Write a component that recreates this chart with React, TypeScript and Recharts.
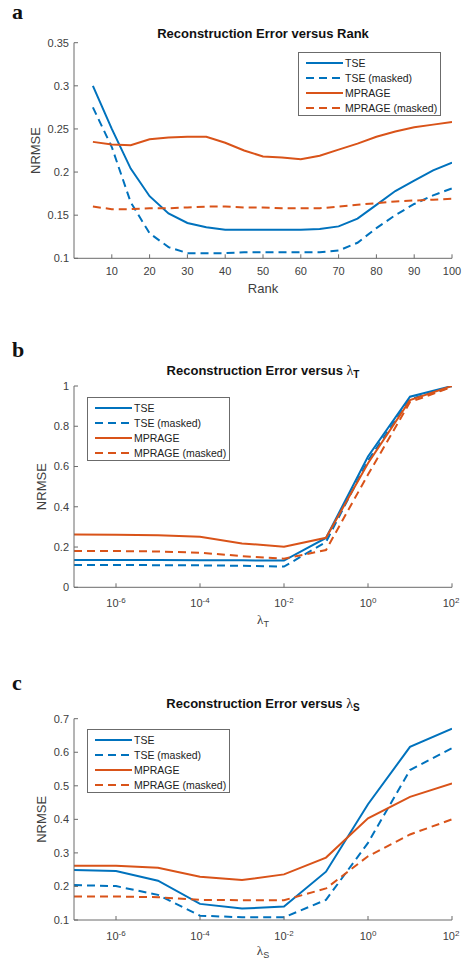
import React from 'react';
import { LineChart, Line, XAxis, YAxis, Legend } from 'recharts';

const BLUE = '#0072BD';
const ORANGE = '#D95319';
const AXIS = '#6b6b6b';
const TEXT = '#404040';
const SANS = '"Liberation Sans", Arial, Helvetica, sans-serif';
const SERIF = '"Liberation Serif", "Times New Roman", serif';

// panel a: error vs rank
const rankValues = [5, 10, 15, 20, 25, 30, 35, 40, 45, 50, 55, 60, 65, 70, 75, 80, 85, 90, 95, 100];
const rankTse = [0.3, 0.25, 0.204, 0.172, 0.152, 0.141, 0.136, 0.133, 0.133, 0.133, 0.133, 0.133, 0.134, 0.137, 0.146, 0.162, 0.178, 0.19, 0.202, 0.211];
const rankTseMasked = [0.275, 0.229, 0.165, 0.129, 0.113, 0.106, 0.106, 0.106, 0.107, 0.107, 0.107, 0.107, 0.107, 0.109, 0.118, 0.135, 0.15, 0.163, 0.173, 0.181];
const rankMprage = [0.235, 0.232, 0.231, 0.238, 0.24, 0.241, 0.241, 0.234, 0.225, 0.218, 0.217, 0.215, 0.219, 0.226, 0.233, 0.241, 0.247, 0.252, 0.255, 0.258];
const rankMprageMasked = [0.16, 0.157, 0.157, 0.158, 0.158, 0.159, 0.16, 0.16, 0.159, 0.159, 0.158, 0.158, 0.158, 0.16, 0.162, 0.164, 0.166, 0.167, 0.168, 0.169];

// panels b and c share the lambda grid
const lambdaValues = [1e-7, 1e-6, 1e-5, 1e-4, 1e-3, 1e-2, 1e-1, 1, 10, 100];
const lambdaTicks = [1e-6, 1e-4, 1e-2, 1, 100];

// panel b: error vs lambda_T
const lamTTse = [0.136, 0.136, 0.136, 0.135, 0.134, 0.133, 0.245, 0.65, 0.947, 1.0];
const lamTTseMasked = [0.111, 0.111, 0.11, 0.109, 0.107, 0.103, 0.225, 0.63, 0.935, 0.995];
const lamTMprage = [0.262, 0.261, 0.258, 0.251, 0.218, 0.202, 0.246, 0.616, 0.93, 1.0];
const lamTMprageMasked = [0.18, 0.18, 0.178, 0.172, 0.155, 0.142, 0.185, 0.56, 0.92, 0.995];

// panel c: error vs lambda_S
const lamSTse = [0.249, 0.246, 0.217, 0.148, 0.134, 0.14, 0.244, 0.445, 0.616, 0.67];
const lamSTseMasked = [0.204, 0.201, 0.175, 0.113, 0.108, 0.108, 0.16, 0.33, 0.547, 0.612];
const lamSMprage = [0.262, 0.262, 0.256, 0.229, 0.219, 0.236, 0.286, 0.403, 0.467, 0.507];
const lamSMprageMasked = [0.17, 0.17, 0.168, 0.16, 0.159, 0.159, 0.194, 0.29, 0.355, 0.4];

const rankYTicks = [0.1, 0.15, 0.2, 0.25, 0.3, 0.35];
const lamTYTicks = [0, 0.2, 0.4, 0.6, 0.8, 1];
const lamSYTicks = [0.1, 0.2, 0.3, 0.4, 0.5, 0.6, 0.7];
const rankXTicks = [10, 20, 30, 40, 50, 60, 70, 80, 90, 100];

const seriesDefs = [
  { key: 'tse', name: 'TSE', color: BLUE, dash: undefined as string | undefined },
  { key: 'tseMasked', name: 'TSE (masked)', color: BLUE, dash: '8 5' },
  { key: 'mprage', name: 'MPRAGE', color: ORANGE, dash: undefined as string | undefined },
  { key: 'mprageMasked', name: 'MPRAGE (masked)', color: ORANGE, dash: '8 5' },
];

const buildRows = (xs: number[], a: number[], b: number[], c: number[], d: number[]) =>
  xs.map((x, i) => ({ x, tse: a[i], tseMasked: b[i], mprage: c[i], mprageMasked: d[i] }));

const rankData = buildRows(rankValues, rankTse, rankTseMasked, rankMprage, rankMprageMasked);
const lamTData = buildRows(lambdaValues, lamTTse, lamTTseMasked, lamTMprage, lamTMprageMasked);
const lamSData = buildRows(lambdaValues, lamSTse, lamSTseMasked, lamSMprage, lamSMprageMasked);

function LegendBox() {
  return (
    <div
      style={{
        width: 143,
        height: 64,
        boxSizing: 'border-box',
        border: `1px solid ${AXIS}`,
        background: '#fff',
        paddingTop: 3,
        paddingLeft: 7,
        fontFamily: SANS,
        fontSize: 10.5,
        color: '#222',
      }}
    >
      {seriesDefs.map((s) => (
        <div key={s.key} style={{ display: 'flex', alignItems: 'center', height: 14.8 }}>
          <svg width={37} height={6} style={{ display: 'block' }}>
            <line x1={0} y1={3} x2={37} y2={3} stroke={s.color} strokeWidth={2} strokeDasharray={s.dash} />
          </svg>
          <span style={{ marginLeft: 2, lineHeight: '12px' }}>{s.name}</span>
        </div>
      ))}
    </div>
  );
}

function PowerTick(props: any) {
  const { x, y, payload } = props;
  const exp = Math.round(Math.log10(payload.value));
  return (
    <text x={x} y={y} textAnchor="middle" fill={TEXT} fontFamily={SANS} fontSize={11}>
      <tspan dy="0.71em">10</tspan>
      <tspan dy="-0.5em" fontSize={8}>{exp}</tspan>
    </text>
  );
}

const xLabel = (main: string, sub: string | null, dy: number) => (props: any) => {
  const vb = props.viewBox || { x: 0, y: 0, width: 0 };
  const cx = vb.x + vb.width / 2;
  if (!sub) {
    return (
      <text x={cx} y={vb.y + dy} textAnchor="middle" fill={TEXT} fontFamily={SANS} fontSize={13}>
        {main}
      </text>
    );
  }
  return (
    <text x={cx} y={vb.y + dy} textAnchor="middle" fill={TEXT}>
      <tspan fontFamily={SERIF} fontSize={13}>{main}</tspan>
      <tspan fontFamily={SANS} fontSize={9} dy={3}>{sub}</tspan>
    </text>
  );
};

const yLabel = (cx: number) => (props: any) => {
  const vb = props.viewBox || { y: 0, height: 0 };
  const cy = vb.y + vb.height / 2;
  return (
    <text
      x={cx}
      y={cy}
      transform={`rotate(-90 ${cx} ${cy})`}
      textAnchor="middle"
      dominantBaseline="central"
      fill={TEXT}
      fontFamily={SANS}
      fontSize={13}
    >
      NRMSE
    </text>
  );
};

interface PanelProps {
  top: number;
  height: number;
  data: any[];
  margin: { top: number; right: number; bottom: number; left: number };
  log: boolean;
  xDomain: [number, number];
  xTicks: number[];
  yDomain: [number, number];
  yTicks: number[];
  xLabelNode: (p: any) => React.ReactElement;
  yLabelX: number;
  tickMargin: number;
  legendPos: { left: number; top: number };
}

function Panel(p: PanelProps) {
  const axisCommon = {
    stroke: AXIS,
    tickSize: -4,
    tickLine: { stroke: AXIS },
    axisLine: { stroke: AXIS },
  };
  const scale = p.log ? 'log' : 'linear';
  return (
    <div style={{ position: 'absolute', left: 0, top: p.top }}>
      <LineChart width={463} height={p.height} data={p.data} margin={p.margin}>
        <XAxis
          xAxisId="bottom"
          dataKey="x"
          type="number"
          scale={scale}
          domain={p.xDomain}
          ticks={p.xTicks}
          allowDataOverflow
          height={30}
          tickMargin={p.tickMargin}
          tick={p.log ? <PowerTick /> : { fill: TEXT, fontFamily: SANS, fontSize: 11 }}
          label={{ content: p.xLabelNode }}
          {...axisCommon}
        />
        <XAxis
          xAxisId="top"
          orientation="top"
          dataKey="x"
          type="number"
          scale={scale}
          domain={p.xDomain}
          ticks={p.xTicks}
          allowDataOverflow
          height={0}
          tick={false}
          {...axisCommon}
        />
        <YAxis
          yAxisId="left"
          type="number"
          domain={p.yDomain}
          ticks={p.yTicks}
          allowDataOverflow
          width={74}
          tickMargin={9}
          tick={{ fill: TEXT, fontFamily: SANS, fontSize: 11 }}
          label={{ content: yLabel(p.yLabelX) }}
          {...axisCommon}
        />
        <YAxis
          yAxisId="right"
          orientation="right"
          type="number"
          domain={p.yDomain}
          ticks={p.yTicks}
          allowDataOverflow
          width={0}
          tick={false}
          {...axisCommon}
        />
        <Legend
          layout="vertical"
          align="center"
          verticalAlign="middle"
          content={() => <LegendBox />}
          wrapperStyle={{ left: p.legendPos.left, top: p.legendPos.top, width: 'auto', height: 'auto' }}
        />
        {seriesDefs.map((s) => (
          <Line
            key={s.key}
            xAxisId="bottom"
            yAxisId="left"
            type="linear"
            dataKey={s.key}
            name={s.name}
            stroke={s.color}
            strokeWidth={2}
            strokeDasharray={s.dash}
            dot={false}
            activeDot={false}
            isAnimationActive={false}
          />
        ))}
      </LineChart>
    </div>
  );
}

const titleStyle: React.CSSProperties = {
  position: 'absolute',
  left: 74,
  width: 378,
  textAlign: 'center',
  fontFamily: SANS,
  fontWeight: 700,
  fontSize: 13,
  lineHeight: '15px',
  color: '#111',
  whiteSpace: 'nowrap',
};

const letterStyle: React.CSSProperties = {
  position: 'absolute',
  left: 12,
  fontFamily: SERIF,
  fontWeight: 700,
  fontSize: 22,
  lineHeight: '22px',
  color: '#111',
};

function LambdaTitle({ sub }: { sub: string }) {
  return (
    <>
      Reconstruction Error versus{' '}
      <span style={{ fontFamily: SERIF, fontWeight: 400, fontSize: 14 }}>λ</span>
      <sub style={{ fontSize: 10, verticalAlign: -3, lineHeight: 0 }}>{sub}</sub>
    </>
  );
}

export default function App() {
  return (
    <div style={{ position: 'absolute', left: 0, top: 0, width: 463, height: 969, background: '#fff' }}>
      <div style={{ ...letterStyle, top: 1 }}>a</div>
      <div style={{ ...titleStyle, top: 25.5 }}>Reconstruction Error versus Rank</div>
      <Panel
        top={0}
        height={300}
        data={rankData}
        margin={{ top: 42.7, right: 11, bottom: 11.7, left: 0 }}
        log={false}
        xDomain={[0, 100]}
        xTicks={rankXTicks}
        yDomain={[0.1, 0.35]}
        yTicks={rankYTicks}
        xLabelNode={xLabel('Rank', null, 35)}
        yLabelX={35}
        tickMargin={13}
        legendPos={{ left: 298, top: 52 }}
      />

      <div style={{ ...letterStyle, top: 339 }}>b</div>
      <div style={{ ...titleStyle, top: 362.5 }}>
        <LambdaTitle sub="T" />
      </div>
      <Panel
        top={300}
        height={330}
        data={lamTData}
        margin={{ top: 86, right: 11, bottom: 12.7, left: 0 }}
        log={true}
        xDomain={[1e-7, 100]}
        xTicks={lambdaTicks}
        yDomain={[0, 1]}
        yTicks={lamTYTicks}
        xLabelNode={xLabel('λ', 'T', 37)}
        yLabelX={41.7}
        tickMargin={16}
        legendPos={{ left: 87, top: 97 }}
      />

      <div style={{ ...letterStyle, top: 672 }}>c</div>
      <div style={{ ...titleStyle, top: 695.5 }}>
        <LambdaTitle sub="S" />
      </div>
      <Panel
        top={630}
        height={339}
        data={lamSData}
        margin={{ top: 88.7, right: 11, bottom: 19, left: 0 }}
        log={true}
        xDomain={[1e-7, 100]}
        xTicks={lambdaTicks}
        yDomain={[0.1, 0.7]}
        yTicks={lamSYTicks}
        xLabelNode={xLabel('λ', 'S', 35)}
        yLabelX={41.7}
        tickMargin={16}
        legendPos={{ left: 87, top: 99 }}
      />
    </div>
  );
}
